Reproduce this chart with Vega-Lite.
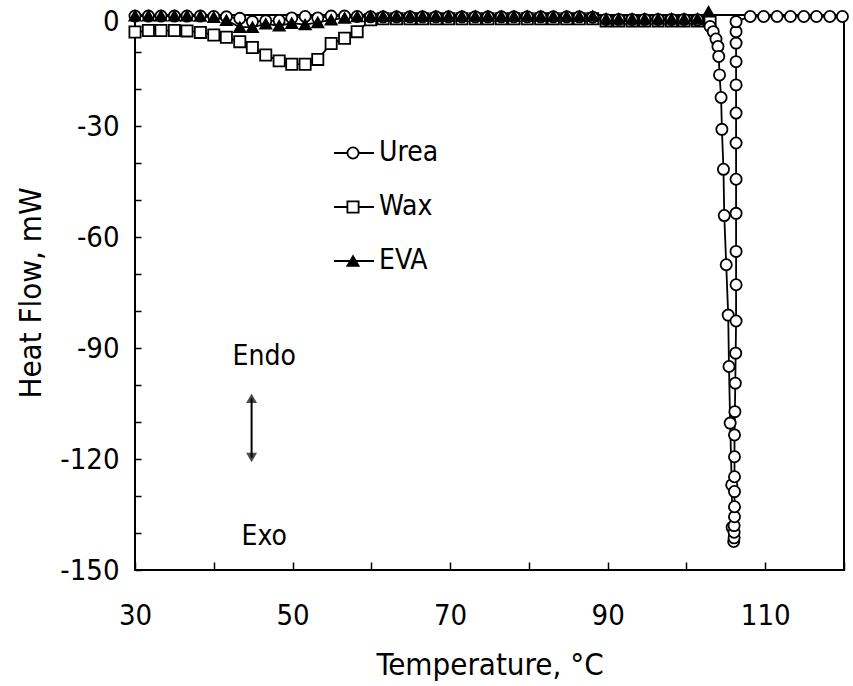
{
"$schema": "https://vega.github.io/schema/vega-lite/v6.json",
"width": 709, "height": 555,
"autosize": "none",
"padding": {"left": 135, "top": 15, "right": 9, "bottom": 116},
"background": "white",
"config": {"view": {"stroke": "black", "strokeWidth": 2}, "font": "DejaVu Sans Condensed, Liberation Sans, sans-serif"},
"datasets": {
"dsc": [
{"s":"Wax","i":0,"T":30.0,"v":-4.6},{"s":"Wax","i":1,"T":31.7,"v":-4.2},{"s":"Wax","i":2,"T":33.3,"v":-4.2},{"s":"Wax","i":3,"T":35.0,"v":-4.2},{"s":"Wax","i":4,"T":36.6,"v":-4.3},{"s":"Wax","i":5,"T":38.3,"v":-4.7},{"s":"Wax","i":6,"T":40.0,"v":-5.4},{"s":"Wax","i":7,"T":41.6,"v":-6.0},{"s":"Wax","i":8,"T":43.3,"v":-7.2},{"s":"Wax","i":9,"T":44.9,"v":-8.8},{"s":"Wax","i":10,"T":46.6,"v":-10.8},{"s":"Wax","i":11,"T":48.3,"v":-12.4},{"s":"Wax","i":12,"T":49.9,"v":-13.3},{"s":"Wax","i":13,"T":51.6,"v":-13.3},{"s":"Wax","i":14,"T":53.2,"v":-12.0},{"s":"Wax","i":15,"T":54.9,"v":-7.7},{"s":"Wax","i":16,"T":56.6,"v":-6.3},{"s":"Wax","i":17,"T":58.2,"v":-4.5},{"s":"Wax","i":18,"T":59.9,"v":-1.3},{"s":"Wax","i":19,"T":61.5,"v":-1.0},{"s":"Wax","i":20,"T":63.2,"v":-1.0},{"s":"Wax","i":21,"T":64.9,"v":-1.0},{"s":"Wax","i":22,"T":66.5,"v":-1.0},{"s":"Wax","i":23,"T":68.2,"v":-1.0},{"s":"Wax","i":24,"T":69.8,"v":-1.0},{"s":"Wax","i":25,"T":71.5,"v":-1.0},{"s":"Wax","i":26,"T":73.2,"v":-1.0},{"s":"Wax","i":27,"T":74.8,"v":-1.0},{"s":"Wax","i":28,"T":76.5,"v":-1.0},{"s":"Wax","i":29,"T":78.1,"v":-1.0},{"s":"Wax","i":30,"T":79.8,"v":-1.0},{"s":"Wax","i":31,"T":81.5,"v":-1.0},{"s":"Wax","i":32,"T":83.1,"v":-1.0},{"s":"Wax","i":33,"T":84.8,"v":-1.0},{"s":"Wax","i":34,"T":86.4,"v":-1.0},{"s":"Wax","i":35,"T":88.1,"v":-1.0},{"s":"Wax","i":36,"T":89.8,"v":-1.6},{"s":"Wax","i":37,"T":91.4,"v":-1.6},{"s":"Wax","i":38,"T":93.1,"v":-1.6},{"s":"Wax","i":39,"T":94.7,"v":-1.6},{"s":"Wax","i":40,"T":96.4,"v":-1.6},{"s":"Wax","i":41,"T":98.1,"v":-1.6},{"s":"Wax","i":42,"T":99.7,"v":-1.6},{"s":"Wax","i":43,"T":101.4,"v":-1.6},{"s":"Wax","i":44,"T":103.0,"v":-1.6},
{"s":"Urea","i":0,"T":30.0,"v":-0.3},{"s":"Urea","i":1,"T":31.7,"v":-0.3},{"s":"Urea","i":2,"T":33.3,"v":-0.3},{"s":"Urea","i":3,"T":35.0,"v":-0.3},{"s":"Urea","i":4,"T":36.6,"v":-0.3},{"s":"Urea","i":5,"T":38.3,"v":-0.3},{"s":"Urea","i":6,"T":40.0,"v":-0.4},{"s":"Urea","i":7,"T":41.6,"v":-0.5},{"s":"Urea","i":8,"T":43.3,"v":-0.9},{"s":"Urea","i":9,"T":44.9,"v":-1.8},{"s":"Urea","i":10,"T":46.6,"v":-1.6},{"s":"Urea","i":11,"T":48.3,"v":-1.5},{"s":"Urea","i":12,"T":49.9,"v":-0.8},{"s":"Urea","i":13,"T":51.6,"v":-0.4},{"s":"Urea","i":14,"T":53.2,"v":-0.8},{"s":"Urea","i":15,"T":54.9,"v":-0.3},{"s":"Urea","i":16,"T":56.6,"v":-0.3},{"s":"Urea","i":17,"T":58.2,"v":-0.4},{"s":"Urea","i":18,"T":59.9,"v":-0.5},{"s":"Urea","i":19,"T":61.5,"v":-0.5},{"s":"Urea","i":20,"T":63.2,"v":-0.5},{"s":"Urea","i":21,"T":64.9,"v":-0.5},{"s":"Urea","i":22,"T":66.5,"v":-0.5},{"s":"Urea","i":23,"T":68.2,"v":-0.5},{"s":"Urea","i":24,"T":69.8,"v":-0.5},{"s":"Urea","i":25,"T":71.5,"v":-0.5},{"s":"Urea","i":26,"T":73.2,"v":-0.5},{"s":"Urea","i":27,"T":74.8,"v":-0.5},{"s":"Urea","i":28,"T":76.5,"v":-0.5},{"s":"Urea","i":29,"T":78.1,"v":-0.5},{"s":"Urea","i":30,"T":79.8,"v":-0.5},{"s":"Urea","i":31,"T":81.5,"v":-0.5},{"s":"Urea","i":32,"T":83.1,"v":-0.5},{"s":"Urea","i":33,"T":84.8,"v":-0.5},{"s":"Urea","i":34,"T":86.4,"v":-0.5},{"s":"Urea","i":35,"T":88.1,"v":-0.6},{"s":"Urea","i":36,"T":89.8,"v":-1.2},{"s":"Urea","i":37,"T":91.4,"v":-1.2},{"s":"Urea","i":38,"T":93.1,"v":-1.2},{"s":"Urea","i":39,"T":94.7,"v":-1.2},{"s":"Urea","i":40,"T":96.4,"v":-1.2},{"s":"Urea","i":41,"T":98.1,"v":-1.2},{"s":"Urea","i":42,"T":99.7,"v":-1.2},{"s":"Urea","i":43,"T":101.4,"v":-1.3},{"s":"Urea","i":44,"T":103.0,"v":-3.1},{"s":"Urea","i":45,"T":103.4,"v":-4.5},{"s":"Urea","i":46,"T":103.75,"v":-6.5},{"s":"Urea","i":47,"T":104.0,"v":-8.5},{"s":"Urea","i":48,"T":104.1,"v":-11.2},{"s":"Urea","i":49,"T":104.2,"v":-16.2},{"s":"Urea","i":50,"T":104.4,"v":-22.3},{"s":"Urea","i":51,"T":104.5,"v":-30.9},{"s":"Urea","i":52,"T":104.7,"v":-41.7},{"s":"Urea","i":53,"T":104.8,"v":-54.2},{"s":"Urea","i":54,"T":105.05,"v":-67.5},{"s":"Urea","i":55,"T":105.3,"v":-81.1},{"s":"Urea","i":56,"T":105.4,"v":-95.0},{"s":"Urea","i":57,"T":105.55,"v":-110.3},{"s":"Urea","i":58,"T":105.75,"v":-127.0},{"s":"Urea","i":59,"T":105.8,"v":-138.5},{"s":"Urea","i":60,"T":106.0,"v":-142.3},{"s":"Urea","i":61,"T":106.05,"v":-141.3},{"s":"Urea","i":62,"T":106.05,"v":-139.8},{"s":"Urea","i":63,"T":106.05,"v":-138.0},{"s":"Urea","i":64,"T":106.1,"v":-135.6},{"s":"Urea","i":65,"T":106.1,"v":-132.9},{"s":"Urea","i":66,"T":106.1,"v":-128.8},{"s":"Urea","i":67,"T":106.1,"v":-124.8},{"s":"Urea","i":68,"T":106.1,"v":-119.4},{"s":"Urea","i":69,"T":106.1,"v":-113.5},{"s":"Urea","i":70,"T":106.15,"v":-107.2},{"s":"Urea","i":71,"T":106.2,"v":-99.5},{"s":"Urea","i":72,"T":106.25,"v":-91.4},{"s":"Urea","i":73,"T":106.3,"v":-82.7},{"s":"Urea","i":74,"T":106.3,"v":-72.9},{"s":"Urea","i":75,"T":106.3,"v":-63.9},{"s":"Urea","i":76,"T":106.3,"v":-53.6},{"s":"Urea","i":77,"T":106.3,"v":-44.4},{"s":"Urea","i":78,"T":106.3,"v":-34.6},{"s":"Urea","i":79,"T":106.3,"v":-26.5},{"s":"Urea","i":80,"T":106.3,"v":-18.9},{"s":"Urea","i":81,"T":106.3,"v":-12.6},{"s":"Urea","i":82,"T":106.3,"v":-7.6},{"s":"Urea","i":83,"T":106.3,"v":-4.5},{"s":"Urea","i":84,"T":106.3,"v":-1.8},{"s":"Urea","i":85,"T":108.1,"v":-0.4},{"s":"Urea","i":86,"T":109.8,"v":-0.4},{"s":"Urea","i":87,"T":111.5,"v":-0.4},{"s":"Urea","i":88,"T":113.2,"v":-0.4},{"s":"Urea","i":89,"T":114.9,"v":-0.4},{"s":"Urea","i":90,"T":116.5,"v":-0.4},{"s":"Urea","i":91,"T":118.2,"v":-0.4},{"s":"Urea","i":92,"T":119.8,"v":-0.4},
{"s":"EVA","i":0,"T":30.0,"v":-0.2},{"s":"EVA","i":1,"T":31.7,"v":-0.2},{"s":"EVA","i":2,"T":33.3,"v":-0.2},{"s":"EVA","i":3,"T":35.0,"v":-0.2},{"s":"EVA","i":4,"T":36.6,"v":-0.2},{"s":"EVA","i":5,"T":38.3,"v":-0.3},{"s":"EVA","i":6,"T":40.0,"v":-0.6},{"s":"EVA","i":7,"T":41.6,"v":-1.4},{"s":"EVA","i":8,"T":43.3,"v":-3.3},{"s":"EVA","i":9,"T":44.9,"v":-3.3},{"s":"EVA","i":10,"T":46.6,"v":-2.4},{"s":"EVA","i":11,"T":48.3,"v":-2.9},{"s":"EVA","i":12,"T":49.9,"v":-2.2},{"s":"EVA","i":13,"T":51.6,"v":-2.6},{"s":"EVA","i":14,"T":53.2,"v":-2.0},{"s":"EVA","i":15,"T":54.9,"v":-1.3},{"s":"EVA","i":16,"T":56.6,"v":-0.8},{"s":"EVA","i":17,"T":58.2,"v":-0.4},{"s":"EVA","i":18,"T":59.9,"v":-0.3},{"s":"EVA","i":19,"T":61.5,"v":-0.3},{"s":"EVA","i":20,"T":63.2,"v":-0.3},{"s":"EVA","i":21,"T":64.9,"v":-0.3},{"s":"EVA","i":22,"T":66.5,"v":-0.3},{"s":"EVA","i":23,"T":68.2,"v":-0.3},{"s":"EVA","i":24,"T":69.8,"v":-0.3},{"s":"EVA","i":25,"T":71.5,"v":-0.3},{"s":"EVA","i":26,"T":73.2,"v":-0.3},{"s":"EVA","i":27,"T":74.8,"v":-0.3},{"s":"EVA","i":28,"T":76.5,"v":-0.3},{"s":"EVA","i":29,"T":78.1,"v":-0.3},{"s":"EVA","i":30,"T":79.8,"v":-0.3},{"s":"EVA","i":31,"T":81.5,"v":-0.3},{"s":"EVA","i":32,"T":83.1,"v":-0.3},{"s":"EVA","i":33,"T":84.8,"v":-0.3},{"s":"EVA","i":34,"T":86.4,"v":-0.3},{"s":"EVA","i":35,"T":88.1,"v":-0.3},{"s":"EVA","i":36,"T":89.8,"v":-1.0},{"s":"EVA","i":37,"T":91.4,"v":-1.0},{"s":"EVA","i":38,"T":93.1,"v":-1.0},{"s":"EVA","i":39,"T":94.7,"v":-1.0},{"s":"EVA","i":40,"T":96.4,"v":-1.0},{"s":"EVA","i":41,"T":98.1,"v":-1.0},{"s":"EVA","i":42,"T":99.7,"v":-1.0},{"s":"EVA","i":43,"T":101.4,"v":-1.0},{"s":"EVA","i":44,"T":102.8,"v":0.9}
],
"notes": [{"T":46.4,"v":-92.3,"label":"Endo"},{"T":46.4,"v":-141.0,"label":"Exo"}],
"arrow": [{"T":44.8,"v":-103.6,"v2":-119.6}]
},
"encoding": {
  "x": {"field":"T","type":"quantitative","title":"Temperature, °C","scale":{"domain":[30,120],"nice":false,"zero":false},
    "axis":{"values":[30,40,50,60,70,80,90,100,110,120],"labelExpr":"datum.value % 20 == 10 ? toString(datum.value) : ''","domain":false,"grid":false,"tickSize":-8,"tickWidth":1.5,"tickColor":"black","labelFontSize":29,"labelColor":"black","labelPadding":39,"labelFlush":false,"titleFontSize":31,"titleFontWeight":"normal","titleColor":"black","titleX":354.5,"titleY":104,"titleBaseline":"alphabetic","titleAnchor":"middle"}},
  "y": {"field":"v","type":"quantitative","title":"Heat Flow, mW","scale":{"domain":[-150,0],"nice":false,"zero":false},
    "axis":{"values":[-150,-140,-130,-120,-110,-100,-90,-80,-70,-60,-50,-40,-30,-20,-10,0],"labelExpr":"datum.value % 30 == 0 ? toString(datum.value) : ''","domain":false,"grid":false,"tickSize":-6,"tickWidth":1.5,"tickColor":"black","labelFontSize":29,"labelColor":"black","labelPadding":22,"labelFlush":false,"labelOffset":{"condition":{"test":"datum.value == 0","value":6},"value":0},"titleFontSize":31,"titleFontWeight":"normal","titleColor":"black","titleX":-95,"titleY":277.5,"titleAngle":270,"titleBaseline":"alphabetic","titleAlign":"center"}}
},
"layer": [
  {"data":{"name":"dsc"},
   "mark":{"type":"line","strokeWidth":1.8},
   "encoding":{
     "order":{"field":"i","type":"quantitative"},
     "stroke":{"field":"s","type":"nominal","sort":["Urea","Wax","EVA"],"scale":{"range":["black","black","black"]},
       "legend":{"orient":"none","legendX":198,"legendY":118,"title":null,"symbolType":"stroke","symbolSize":1600,"symbolStrokeWidth":1.8,"labelFontSize":28,"labelColor":"black","labelOffset":4,"clipHeight":40,"rowPadding":14,"padding":0}}
   }},
  {"data":{"name":"dsc"},
   "mark":{"type":"point","size":125,"stroke":"black","strokeWidth":1.8,"opacity":1,"filled":true},
   "encoding":{
     "shape":{"field":"s","type":"nominal","scale":{"domain":["Urea","Wax","EVA"],"range":["circle","square","triangle-up"]},
       "legend":{"orient":"none","legendX":204,"legendY":118,"title":null,"symbolSize":125,"symbolStrokeColor":"black","symbolStrokeWidth":1.8,"labelFontSize":28,"labelExpr":"''","labelOffset":4,"clipHeight":40,"rowPadding":14,"padding":0,
         "encoding":{"symbols":{"stroke":{"value":"black"},"strokeWidth":{"value":1.8}}}}},
     "fill":{"field":"s","type":"nominal","scale":{"domain":["Urea","Wax","EVA"],"range":["white","white","black"]},
       "legend":{"orient":"none","legendX":204,"legendY":118,"title":null,"symbolSize":125,"symbolStrokeColor":"black","symbolStrokeWidth":1.8,"labelFontSize":28,"labelExpr":"''","labelOffset":4,"clipHeight":40,"rowPadding":14,"padding":0,
         "encoding":{"symbols":{"stroke":{"value":"black"},"strokeWidth":{"value":1.8}}}}}
   }},
  {"data":{"name":"notes"},
   "mark":{"type":"text","fontSize":28,"align":"center","baseline":"middle","color":"black"},
   "encoding":{"text":{"field":"label"}}},
  {"data":{"name":"arrow"},
   "mark":{"type":"rule","strokeWidth":2,"color":"black"},
   "encoding":{"y2":{"field":"v2"}}},
  {"data":{"name":"arrow"},
   "mark":{"type":"point","shape":"triangle-up","size":120,"filled":true,"color":"black"},
   "encoding":{}},
  {"data":{"name":"arrow"},
   "mark":{"type":"point","shape":"triangle-down","size":120,"filled":true,"color":"black"},
   "encoding":{"y":{"field":"v2","type":"quantitative","title":"Heat Flow, mW"}}}
]
}
